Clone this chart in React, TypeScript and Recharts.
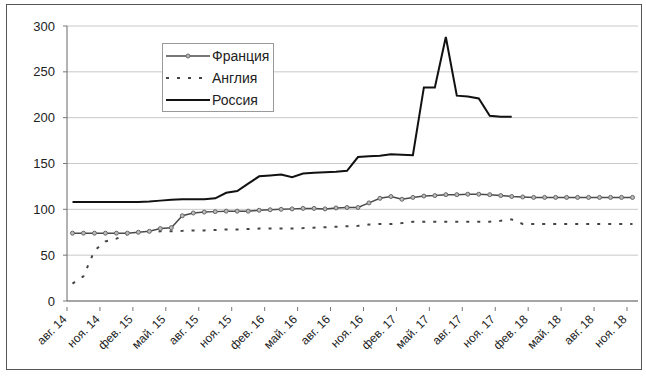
import React from 'react';
import { LineChart, Line, XAxis, YAxis, CartesianGrid, Legend } from 'recharts';

const categories = [
  'авг. 14', 'сен. 14', 'окт. 14', 'ноя. 14', 'дек. 14',
  'янв. 15', 'фев. 15', 'мар. 15', 'апр. 15', 'май. 15', 'июн. 15', 'июл. 15', 'авг. 15', 'сен. 15', 'окт. 15', 'ноя. 15', 'дек. 15',
  'янв. 16', 'фев. 16', 'мар. 16', 'апр. 16', 'май. 16', 'июн. 16', 'июл. 16', 'авг. 16', 'сен. 16', 'окт. 16', 'ноя. 16', 'дек. 16',
  'янв. 17', 'фев. 17', 'мар. 17', 'апр. 17', 'май. 17', 'июн. 17', 'июл. 17', 'авг. 17', 'сен. 17', 'окт. 17', 'ноя. 17', 'дек. 17',
  'янв. 18', 'фев. 18', 'мар. 18', 'апр. 18', 'май. 18', 'июн. 18', 'июл. 18', 'авг. 18', 'сен. 18', 'окт. 18', 'ноя. 18',
];

const france = [
  74, 74, 74, 74, 74, 74, 75, 76, 79, 80, 93, 96, 97, 97.5, 98, 98, 98,
  99, 99.5, 100, 100.5, 101, 101, 100.5, 101.5, 102, 102, 107, 112,
  114, 111, 113, 114.5, 115, 116, 116, 116.5, 116.5, 116, 115, 114,
  113.5, 113, 113, 113, 113, 113, 113, 113, 113, 113, 113,
];

const england = [
  19, 27, 55, 65, 68, 73, 75, 75.5, 76, 76, 76.5, 77, 77, 77.5, 78, 78, 78.5,
  79, 79, 79, 79, 79.5, 80, 80.5, 81, 81.5, 82, 83.5, 84,
  84, 85, 86.5, 86.5, 86.5, 86.5, 86.5, 86.5, 86.5, 86.5, 87.5, 89,
  84, 84, 84, 84, 84, 84, 84, 84, 84, 84, 84,
];

const russia = [
  108, 108, 108, 108, 108, 108, 108, 108.5, 109.5, 110.5, 111, 111, 111, 112, 118, 120, 128,
  136, 137, 138, 135, 139, 140, 140.5, 141, 142, 157, 158, 158.5,
  160, 159.5, 159, 233, 233, 288, 224, 223, 221, 202, 201, 201,
];

const yTicks = [0, 50, 100, 150, 200, 250, 300];

const seriesOrder = ['france', 'england', 'russia'];

const seriesNames: Record<string, string> = {
  france: 'Франция',
  england: 'Англия',
  russia: 'Россия',
};

const FONT = '"Liberation Sans", Arial, sans-serif';

const data = categories.map((name, i) => ({
  name,
  france: france[i],
  england: england[i],
  russia: i < russia.length ? russia[i] : null,
}));

const styles: Record<string, any> = {
  france: { stroke: '#4a4a4a', strokeWidth: 1.5 },
  england: { stroke: '#444', strokeWidth: 2, strokeDasharray: '3 8' },
  russia: { stroke: '#111', strokeWidth: 2 },
};

const XTick = (props: any) => {
  const { x, y, payload } = props;
  const tx = x - 5;
  const ty = y + 11;
  return (
    <g>
      <line x1={x - 5.5} x2={x - 5.5} y1={y - 2} y2={y + 2} stroke="#777" strokeWidth={1} />
      <text
        x={tx}
        y={ty}
        transform={`rotate(-45 ${tx} ${ty})`}
        textAnchor="end"
        fontSize={12}
        fontFamily={FONT}
        fill="#222"
      >
        {payload.value}
      </text>
    </g>
  );
};

const LegendContent = (props: any) => {
  const { payload } = props;
  const items = [...(payload || [])].sort(
    (a: any, b: any) => seriesOrder.indexOf(a.dataKey) - seriesOrder.indexOf(b.dataKey)
  );
  return (
    <div
      style={{
        border: '1px solid #999',
        background: '#fff',
        padding: '1px 0 2px 3px',
        boxSizing: 'border-box',
        width: 112,
        height: 69,
      }}
    >
      {items.map((entry: any) => {
        const key = entry.dataKey as string;
        const st = styles[key];
        return (
          <div key={key} style={{ display: 'flex', alignItems: 'center', height: 22 }}>
            <svg width={44} height={10} style={{ display: 'block' }}>
              <line x1={0} x2={44} y1={5} y2={5} {...st} />
              {key === 'france' && <circle cx={22} cy={5} r={2} fill="#bbb" stroke="#666" strokeWidth={1} />}
            </svg>
            <span style={{ fontFamily: FONT, fontSize: 14, color: '#222', marginLeft: 2 }}>{seriesNames[key]}</span>
          </div>
        );
      })}
    </div>
  );
};

export default function App() {
  return (
    <div style={{ position: 'absolute', left: 0, top: 0, width: 646, height: 378, background: '#fff' }}>
      <div
        style={{
          position: 'absolute',
          left: 6,
          top: 4,
          width: 636,
          height: 366,
          border: '1px solid #555',
          boxSizing: 'border-box',
        }}
      />
      <LineChart
        width={646}
        height={378}
        data={data}
        margin={{ top: 26, right: 8, left: 17, bottom: 17 }}
      >
        <CartesianGrid vertical={false} stroke="#c8c8c8" />
        <XAxis
          dataKey="name"
          interval={2}
          padding={{ left: 5.5, right: 5.5 }}
          height={60}
          tickLine={false}
          axisLine={{ stroke: '#666' }}
          tick={<XTick />}
        />
        <YAxis
          domain={[0, 300]}
          ticks={yTicks}
          interval={0}
          width={50}
          tickSize={4}
          tickMargin={8}
          tickLine={{ stroke: '#777' }}
          axisLine={{ stroke: '#666' }}
          tick={{ fontSize: 13, fill: '#222', fontFamily: FONT }}
        />
        <YAxis
          yAxisId="right"
          orientation="right"
          domain={[0, 300]}
          width={0}
          tick={false}
          tickLine={false}
          axisLine={{ stroke: '#aaa' }}
        />
        <Legend
          layout="vertical"
          align="center"
          verticalAlign="middle"
          wrapperStyle={{ left: 162, top: 43, width: 112, height: 69 }}
          content={<LegendContent />}
        />
        <Line
          type="linear"
          dataKey="france"
          name={seriesNames.france}
          {...styles.france}
          dot={{ r: 2, fill: '#bbb', stroke: '#666', strokeWidth: 1 }}
          isAnimationActive={false}
        />
        <Line
          type="linear"
          dataKey="england"
          name={seriesNames.england}
          {...styles.england}
          dot={false}
          isAnimationActive={false}
        />
        <Line
          type="linear"
          dataKey="russia"
          name={seriesNames.russia}
          {...styles.russia}
          dot={false}
          isAnimationActive={false}
        />
      </LineChart>
    </div>
  );
}
